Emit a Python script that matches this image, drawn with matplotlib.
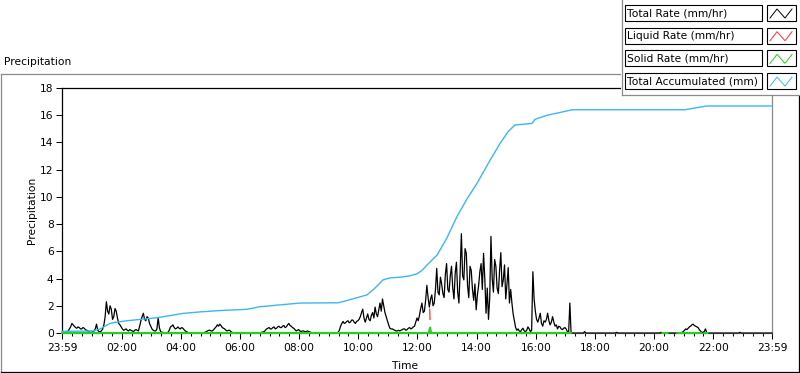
import numpy as np
import matplotlib
matplotlib.use("Agg")
import matplotlib.pyplot as plt
from matplotlib.lines import Line2D
from matplotlib.patches import Rectangle

# ---------------- data ----------------
# Total rate (mm/hr), one value every 2.5 minutes starting at 23:59 (12 values per half hour)
total_rate = [
    0, 0, 0, 0, 0, 0.15, 0.3, 0.45, 0.7, 0.6, 0.5, 0.4,
    0.35, 0.45, 0.4, 0.3, 0.3, 0.4, 0.35, 0.25, 0.2, 0.15, 0.1, 0.05,
    0.05, 0.1, 0.15, 0.3, 0.65, 0.2, 0.1, 0.1, 0.15, 0.3, 0.6, 1.2,
    2.3, 1.6, 1.4, 2.0, 1.75, 1.0, 1.2, 1.8, 1.6, 1.1, 0.7, 0.6,
    0.45, 0.3, 0.2, 0.25, 0.3, 0.2, 0.15, 0.25, 0.2, 0.15, 0.1, 0.2,
    0.25, 0.2, 0.15, 0.5, 0.9, 1.2, 1.45, 1.0, 0.9, 1.2, 1.1, 0.7,
    0.5, 0.3, 0.2, 0.15, 0.15, 0.3, 1.1, 0.4, 0.1, 0.05, 0.05, 0,
    0, 0, 0.05, 0.2, 0.45, 0.5, 0.6, 0.4, 0.3, 0.35, 0.45, 0.35,
    0.3, 0.4, 0.35, 0.25, 0.15, 0.1, 0.05, 0, 0, 0, 0, 0,
    0, 0, 0, 0, 0.02, 0, 0, 0.03, 0.05, 0.1, 0.15, 0.2,
    0.2, 0.15, 0.15, 0.25, 0.35, 0.45, 0.6, 0.5, 0.65, 0.55, 0.4, 0.35,
    0.3, 0.2, 0.15, 0.2, 0.2, 0.1, 0.05, 0, 0, 0, 0, 0,
    0, 0, 0, 0, 0, 0, 0, 0, 0.03, 0, 0, 0,
    0, 0, 0, 0, 0, 0.03, 0.05, 0.08, 0.1, 0.2, 0.3, 0.35,
    0.4, 0.3, 0.3, 0.4, 0.45, 0.3, 0.35, 0.45, 0.5, 0.4, 0.4, 0.5,
    0.55, 0.4, 0.45, 0.6, 0.7, 0.55, 0.5, 0.4, 0.35, 0.25, 0.15, 0.2,
    0.25, 0.15, 0.1, 0.15, 0.15, 0.1, 0.1, 0.15, 0.12, 0.08, 0.05, 0,
    0, 0, 0, 0, 0, 0, 0, 0, 0, 0, 0, 0,
    0, 0, 0, 0, 0, 0, 0, 0, 0.05, 0.2, 0.5, 0.7,
    0.85, 0.7, 0.75, 0.85, 0.9, 0.75, 0.8, 0.95, 0.95, 0.8, 0.7, 0.85,
    0.9, 1.0, 1.2, 1.5, 1.75, 1.1, 0.8, 1.1, 1.4, 1.0, 0.9, 1.3,
    1.5, 1.1, 1.9, 1.4, 1.2, 1.7, 2.2, 1.6, 2.5, 2.0, 1.5, 1.2,
    0.9, 0.6, 0.35, 0.3, 0.3, 0.25, 0.2, 0.15, 0.15, 0.2, 0.15, 0.2,
    0.25, 0.3, 0.3, 0.2, 0.25, 0.35, 0.4, 0.3, 0.35, 0.45, 0.5, 0.8,
    1.1, 0.9, 1.3, 1.8, 2.2, 1.5, 1.6, 2.4, 3.5, 2.6, 1.9, 2.5,
    2.8, 2.0, 2.2, 3.2, 4.75, 3.0, 2.8, 4.1, 3.6, 2.9, 2.6, 4.3,
    5.1, 3.2, 3.0, 4.2, 4.9, 3.3, 2.5, 4.4, 5.2, 3.0, 2.2, 4.5,
    7.3, 4.2, 3.9, 6.2, 5.85, 3.5, 2.6, 4.9, 4.6, 3.2, 2.4, 3.6,
    1.7, 2.8, 3.5, 4.5, 5.1, 3.2, 5.85, 4.0, 1.45, 3.3, 1.0, 2.6,
    7.1, 4.0, 3.0, 5.4, 4.9, 3.3, 2.9, 4.6, 5.9, 3.4, 3.9, 5.0,
    2.5, 3.6, 4.8, 2.2, 3.2, 2.2, 1.4, 0.9, 0.4, 0.2, 0.3, 0.15,
    0.1, 0.25, 0.35, 0.15, 0.1, 0.2, 0.45, 0.3, 0.1, 0.2, 4.5, 2.5,
    1.6, 1.0, 0.8, 1.1, 1.45, 0.7, 0.5, 0.9, 0.8, 1.0, 1.45, 0.9,
    0.6, 0.8, 1.2, 0.8, 0.5, 0.6, 0.3, 0.5, 0.45, 0.3, 0.25, 0.35,
    0.4, 0.3, 0.1, 0, 2.2, 0, 0, 0, 0, 0, 0, 0,
    0, 0, 0, 0, 0.1, 0, 0, 0, 0, 0, 0, 0,
    0, 0, 0, 0, 0, 0, 0, 0, 0, 0, 0, 0,
    0, 0, 0, 0, 0, 0, 0.05, 0, 0, 0, 0, 0,
    0, 0, 0, 0, 0, 0, 0, 0, 0, 0, 0, 0,
    0, 0, 0, 0, 0, 0, 0, 0, 0, 0, 0, 0,
    0, 0, 0, 0, 0, 0, 0.05, 0, 0, 0, 0, 0,
    0, 0, 0, 0, 0, 0, 0, 0, 0, 0, 0, 0.05,
    0.1, 0.2, 0.3, 0.25, 0.35, 0.45, 0.5, 0.6, 0.65, 0.55, 0.5, 0.45,
    0.4, 0.25, 0.15, 0.05, 0.05, 0.1, 0.3, 0.05, 0, 0, 0, 0,
    0, 0, 0, 0, 0, 0, 0, 0, 0, 0, 0, 0,
    0, 0, 0, 0, 0, 0, 0, 0, 0, 0, 0.05, 0,
    0, 0, 0, 0, 0, 0, 0, 0, 0, 0, 0, 0,
    0, 0, 0, 0, 0, 0, 0, 0, 0, 0, 0, 0,
    0,
]
rate_step_hours = 2.5 / 60

# Liquid rate (mm/hr): only visible where it differs from the total
liquid_times = [12.43, 12.44]
liquid_rate = [1.75, 1.0]

# Solid rate (mm/hr): hours since 23:59 (NaN = no data)
solid_times = [0.0, 12.40, 12.44, 12.48, 17.2, np.nan,
               20.30, 20.47, np.nan, 20.80, 21.60, np.nan, 21.72, 21.82]
solid_rate = [0, 0, 0.4, 0, 0, np.nan,
              0, 0, np.nan, 0, 0, np.nan, 0, 0]

# Total accumulated (mm): hours since 23:59
acc_times = [0.0, 1.05, 1.29, 1.49, 1.62, 1.79, 2.20, 2.64, 3.21, 4.09,
             4.67, 5.34, 6.25, 6.69, 7.54, 8.05, 9.33, 9.57, 9.90, 10.31,
             10.58, 10.85, 11.09, 11.43, 11.76, 12.00, 12.17, 12.34, 12.68, 13.01,
             13.35, 13.69, 14.03, 14.47, 14.81, 15.08, 15.31, 15.89, 15.99, 16.40,
             16.83, 17.24, 21.06, 21.30, 21.80, 24.0]
acc_values = [0.12, 0.15, 0.3, 0.55, 0.7, 0.78, 0.9, 1.0, 1.12, 1.44,
              1.55, 1.65, 1.74, 1.93, 2.1, 2.2, 2.22, 2.35, 2.55, 2.8,
              3.3, 3.9, 4.05, 4.1, 4.2, 4.35, 4.6, 5.0, 5.73, 6.98,
              8.55, 9.85, 11.0, 12.7, 13.93, 14.8, 15.28, 15.4, 15.7, 16.0,
              16.2, 16.4, 16.4, 16.5, 16.68, 16.68]

x_tick_hours = [0, 2 + 1/60, 4 + 1/60, 6 + 1/60, 8 + 1/60, 10 + 1/60, 12 + 1/60,
                14 + 1/60, 16 + 1/60, 18 + 1/60, 20 + 1/60, 22 + 1/60, 24]
x_tick_labels = ["23:59", "02:00", "04:00", "06:00", "08:00", "10:00", "12:00",
                 "14:00", "16:00", "18:00", "20:00", "22:00", "23:59"]
y_ticks = [0, 2, 4, 6, 8, 10, 12, 14, 16, 18]

legend_labels = ["Total Rate (mm/hr)", "Liquid Rate (mm/hr)",
                 "Solid Rate (mm/hr)", "Total Accumulated (mm)"]
series_colors = ["#000000", "#ff3030", "#22d022", "#3cb6f2"]

title_text = "Precipitation"
y_label = "Precipitation"
x_label = "Time"

# ---------------- figure ----------------
plt.rcParams["font.family"] = ["DejaVu Sans"]
FS = 7.7
W, H = 800, 373
fig = plt.figure(figsize=(W / 100, H / 100), dpi=100)
fig.patch.set_facecolor("white")


def fx(x):
    return x / W


def fy(y):
    return 1 - y / H


ax = fig.add_axes([fx(62), fy(333), (772 - 62) / W, (333 - 88) / H])
ax.set_facecolor("white")

rate_times = np.arange(len(total_rate)) * rate_step_hours
ax.plot(liquid_times, liquid_rate, color=series_colors[1], lw=0.9, zorder=2, clip_on=False)
ax.plot(rate_times, total_rate, color=series_colors[0], lw=0.9, zorder=3, clip_on=False)
ax.plot(solid_times, solid_rate, color=series_colors[2], lw=1.5, zorder=4, clip_on=False)
ax.plot(acc_times, acc_values, color=series_colors[3], lw=1.0, zorder=5, clip_on=False)

ax.set_xlim(0, 24)
ax.set_ylim(0, 18)
ax.set_xticks(x_tick_hours)
ax.set_xticklabels(x_tick_labels, fontsize=FS)
minor = [1 / 60 + k / 3 for k in range(72)]
minor = [m for m in minor if 0 < m < 24 and all(abs(m - t) > 0.01 for t in x_tick_hours)]
ax.set_xticks(minor, minor=True)
ax.set_yticks(y_ticks)
ax.set_yticklabels([str(v) for v in y_ticks], fontsize=FS)
ax.tick_params(axis="x", which="major", direction="out", length=4.5, width=0.75, pad=2.5, colors="black")
ax.tick_params(axis="x", which="minor", direction="out", length=2.5, width=0.75)
ax.tick_params(axis="y", which="major", direction="out", length=4, width=0.75, pad=2, colors="black")

for s in ["left", "top"]:
    ax.spines[s].set_color("black")
    ax.spines[s].set_linewidth(0.9)
for s in ["right", "bottom"]:
    ax.spines[s].set_color("#8a8a8a")
    ax.spines[s].set_linewidth(0.9)

ax.set_ylabel(y_label, fontsize=FS)
ax.yaxis.set_label_coords(-0.042, 0.5)
ax.set_xlabel(x_label, fontsize=FS)
ax.xaxis.set_label_coords(0.483, -0.135)
ax.xaxis.label.set_verticalalignment("center")
ax.yaxis.label.set_verticalalignment("center")

# title
fig.text(fx(4), fy(62), title_text, fontsize=FS, ha="left", va="center")

# outer frame
fig.add_artist(Line2D([fx(0.5), fx(621)], [fy(73.5), fy(73.5)], color="#8a8a8a", lw=0.9))
fig.add_artist(Line2D([fx(0.5), fx(0.5)], [fy(73.5), fy(371.5)], color="#8a8a8a", lw=0.9))
fig.add_artist(Line2D([fx(0.5), fx(799.5)], [fy(371.5), fy(371.5)], color="black", lw=0.9))
fig.add_artist(Line2D([fx(799.3), fx(799.3)], [fy(95), fy(371.5)], color="black", lw=0.9))

# legend panel
fig.add_artist(Rectangle((fx(621), fy(95)), (W - 621) / W, 95 / H, transform=fig.transFigure,
                         facecolor="white", edgecolor="none", zorder=10))
fig.add_artist(Line2D([fx(621.5), fx(621.5)], [fy(0), fy(95)], color="#8a8a8a", lw=0.9, zorder=11))
fig.add_artist(Line2D([fx(621.5), fx(800)], [fy(95), fy(95)], color="#8a8a8a", lw=0.9, zorder=11))
for k, (lab, col) in enumerate(zip(legend_labels, series_colors)):
    top = 5 + 22.7 * k
    fig.add_artist(Rectangle((fx(624.5), fy(top + 16)), (762 - 624.5) / W, 16 / H,
                             transform=fig.transFigure, facecolor="white",
                             edgecolor="black", lw=0.8, zorder=12))
    fig.text(fx(627), fy(top + 8.5), lab, fontsize=FS, ha="left", va="center", zorder=13)
    fig.add_artist(Rectangle((fx(767), fy(top + 16)), (795.5 - 767) / W, 16 / H,
                             transform=fig.transFigure, facecolor="white",
                             edgecolor="black", lw=0.8, zorder=12))
    fig.add_artist(Line2D([fx(770), fx(777), fx(785), fx(792)],
                          [fy(top + 13), fy(top + 4), fy(top + 13), fy(top + 4)],
                          color=col, lw=0.7, zorder=13))

fig.savefig("out.png", dpi=100, facecolor="white")
